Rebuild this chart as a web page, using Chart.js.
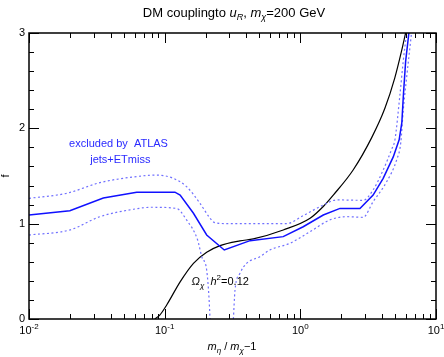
<!DOCTYPE html>
<html><head><meta charset="utf-8">
<script src="https://cdn.jsdelivr.net/npm/chart.js@4.4.0/dist/chart.umd.min.js"></script>
<style>html,body{margin:0;padding:0;background:#fff;}#wrap{width:444px;height:357px;}</style>
</head><body><div id="wrap"><canvas id="c" width="444" height="357"></canvas></div>
<script>
// ---- data (x = m_eta/m_chi - 1, f = coupling) ----
const exclX = [0.01, 0.02, 0.0353, 0.0622, 0.119, 0.130, 0.163, 0.204, 0.275, 0.426, 0.748, 1.05, 1.476, 1.96, 2.75, 3.44, 4.08, 4.84, 5.35, 5.6, 5.75, 5.97, 6.31];
const exclF = [1.09, 1.136, 1.27, 1.33, 1.33, 1.30, 1.109, 0.881, 0.724, 0.822, 0.864, 0.968, 1.091, 1.16, 1.16, 1.30, 1.476, 1.70, 1.88, 2.06, 2.35, 2.70, 3.0];
const upX = [0.01, 0.019, 0.0333, 0.0587, 0.087, 0.1156, 0.145, 0.182, 0.216, 0.235, 0.3, 0.79, 1.05, 1.476, 1.85, 2.9, 3.44, 4.08, 4.71, 4.98, 5.42, 5.73, 6.07];
const upF = [1.266, 1.319, 1.43, 1.49, 1.51, 1.476, 1.388, 1.214, 1.057, 1.01, 1.0, 1.0, 1.084, 1.196, 1.249, 1.245, 1.354, 1.563, 1.78, 1.88, 2.35, 2.70, 3.0];
const lowAX = [0.01, 0.02, 0.0333, 0.0587, 0.08, 0.122, 0.145, 0.175, 0.1876, 0.204, 0.212, 0.216];
const lowAF = [0.881, 0.934, 1.073, 1.151, 1.172, 1.16, 1.039, 0.829, 0.654, 0.514, 0.234, 0];
const lowBX = [0.321, 0.330, 0.359, 0.402, 0.503, 0.597, 0.838, 1.18, 1.65, 2.19, 2.9, 3.44, 4.33, 5.13, 5.5, 5.73, 6.07, 6.6];
const lowBF = [0, 0.304, 0.479, 0.584, 0.654, 0.724, 0.794, 0.916, 1.039, 1.073, 1.067, 1.23, 1.44, 1.67, 1.85, 2.18, 2.53, 3.0];
const relicX = [0.0847, 0.092, 0.1035, 0.130, 0.163, 0.204, 0.256, 0.359, 0.45, 0.748, 1.18, 1.476, 1.75, 2.45, 3.35, 4.2, 4.97, 5.57, 5.97];
const relicF = [0, 0.04, 0.147, 0.39, 0.584, 0.70, 0.77, 0.82, 0.84, 0.934, 1.057, 1.18, 1.30, 1.563, 1.90, 2.21, 2.53, 2.81, 3.0];

const xTickValues = [0.01, 0.1, 1, 10];
const xTickExponents = ['-2', '-1', '0', '1'];
const yTickValues = [0, 1, 2, 3];
const yTickLabels = ['0', '1', '2', '3'];

const FAM = '"Liberation Sans", Arial, Helvetica, sans-serif';
const pts = (xs, ys) => xs.map((x, i) => ({x: x, y: ys[i]}));

function drawRich(ctx, runs, x, y, align) {
  let w = 0;
  const m = runs.map(r => {
    const size = r.size || 11;
    const font = (r.italic ? 'italic ' : '') + size + 'px ' + FAM;
    ctx.font = font;
    const wd = ctx.measureText(r.text).width;
    w += wd;
    return {font, wd, dy: r.sub ? 3 : (r.sup ? -4.5 : 0), text: r.text};
  });
  let cx = align === 'center' ? x - w / 2 : (align === 'right' ? x - w : x);
  ctx.textAlign = 'left';
  ctx.textBaseline = 'alphabetic';
  m.forEach(r => { ctx.font = r.font; ctx.fillText(r.text, cx, y + r.dy); cx += r.wd; });
}

const framePlugin = {
  id: 'frame',
  afterDraw(chart) {
    const ctx = chart.ctx, a = chart.chartArea;
    const xs = chart.scales.x, ys = chart.scales.y;
    ctx.save();
    ctx.strokeStyle = '#000';
    ctx.lineWidth = 1;
    // ticks
    ctx.beginPath();
    for (let e = -2; e <= 0; e++) {
      for (let k = 2; k <= 9; k++) {
        const v = k * Math.pow(10, e);
        const px = Math.round(xs.getPixelForValue(v)) + 0.5;
        ctx.moveTo(px, a.bottom); ctx.lineTo(px, a.bottom - 5);
        ctx.moveTo(px, a.top); ctx.lineTo(px, a.top + 5);
      }
    }
    xTickValues.forEach(v => {
      const px = Math.round(xs.getPixelForValue(v)) + 0.5;
      ctx.moveTo(px, a.bottom); ctx.lineTo(px, a.bottom - 10);
      ctx.moveTo(px, a.top); ctx.lineTo(px, a.top + 10);
    });
    for (let i = 0; i <= 15; i++) {
      const v = i * 0.2;
      const py = Math.round(ys.getPixelForValue(v)) + 0.5;
      const len = (i % 5 === 0) ? 10 : 5;
      ctx.moveTo(a.left, py); ctx.lineTo(a.left + len, py);
      ctx.moveTo(a.right, py); ctx.lineTo(a.right - len, py);
    }
    ctx.stroke();
    // frame
    ctx.lineWidth = 1.5;
    ctx.strokeRect(a.left, a.top, a.right - a.left, a.bottom - a.top);
    ctx.fillStyle = '#000';
    // y tick labels
    ctx.font = '11px ' + FAM;
    ctx.textAlign = 'right';
    ctx.textBaseline = 'middle';
    yTickValues.forEach((v, i) => ctx.fillText(yTickLabels[i], a.left - 4, ys.getPixelForValue(v)));
    // x tick labels
    xTickValues.forEach((v, i) => {
      drawRich(ctx, [{text: '10', size: 11}, {text: xTickExponents[i], size: 8, sup: true}],
        xs.getPixelForValue(v), a.bottom + 14.5, 'center');
    });
    // axis titles
    drawRich(ctx, [{text: 'm', italic: true}, {text: 'η', italic: true, sub: true, size: 8},
      {text: ' / '}, {text: 'm', italic: true}, {text: 'χ', italic: true, sub: true, size: 8}, {text: '−1'}],
      232, 350, 'center');
    ctx.save();
    ctx.translate(9, (a.top + a.bottom) / 2);
    ctx.rotate(-Math.PI / 2);
    ctx.font = '11px ' + FAM;
    ctx.textAlign = 'center';
    ctx.textBaseline = 'alphabetic';
    ctx.fillText('f', 0, 0);
    ctx.restore();
    // title
    drawRich(ctx, [{text: 'DM couplingto ', size: 13}, {text: 'u', italic: true, size: 13},
      {text: 'R', italic: true, sub: true, size: 9}, {text: ', ', size: 13}, {text: 'm', italic: true, size: 13},
      {text: 'χ', italic: true, sub: true, size: 9}, {text: '=200 GeV', size: 13}], 234, 16.5, 'center');
    // annotations
    ctx.fillStyle = '#2a2aff';
    drawRich(ctx, [{text: 'excluded by  ATLAS'}], xs.getPixelForValue(0.0457), ys.getPixelForValue(1.80), 'center');
    drawRich(ctx, [{text: 'jets+ETmiss'}], xs.getPixelForValue(0.0471), ys.getPixelForValue(1.633), 'center');
    ctx.fillStyle = '#000';
    drawRich(ctx, [{text: 'Ω', italic: true}, {text: 'χ', italic: true, sub: true, size: 8}, {text: '  '},
      {text: 'h', italic: true}, {text: '2', sup: true, size: 8}, {text: '=0.12'}],
      xs.getPixelForValue(0.158), ys.getPixelForValue(0.357), 'left');
    ctx.restore();
  }
};

const dashStyle = {borderColor: '#7070ff', borderWidth: 1.2, borderDash: [2, 2.5], cubicInterpolationMode: 'monotone'};

new Chart(document.getElementById('c'), {
  type: 'line',
  data: {
    datasets: [
      Object.assign({label: 'excluded', data: pts(exclX, exclF), borderColor: '#1010ff', borderWidth: 1.5, tension: 0}),
      Object.assign({label: 'upper', data: pts(upX, upF)}, dashStyle),
      Object.assign({label: 'lowerA', data: pts(lowAX, lowAF)}, dashStyle),
      Object.assign({label: 'lowerB', data: pts(lowBX, lowBF)}, dashStyle),
      {label: 'relic', data: pts(relicX, relicF), borderColor: '#000', borderWidth: 1.2, cubicInterpolationMode: 'monotone'}
    ]
  },
  options: {
    responsive: false,
    devicePixelRatio: 1,
    animation: false,
    layout: {padding: {left: 29, top: 33, right: 8, bottom: 38}},
    elements: {point: {radius: 0, hoverRadius: 0}, line: {fill: false}},
    plugins: {legend: {display: false}, tooltip: {enabled: false}},
    events: [],
    scales: {
      x: {type: 'logarithmic', min: 0.01, max: 10, display: false},
      y: {type: 'linear', min: 0, max: 3, display: false}
    }
  },
  plugins: [framePlugin]
});
</script>
</body></html>
